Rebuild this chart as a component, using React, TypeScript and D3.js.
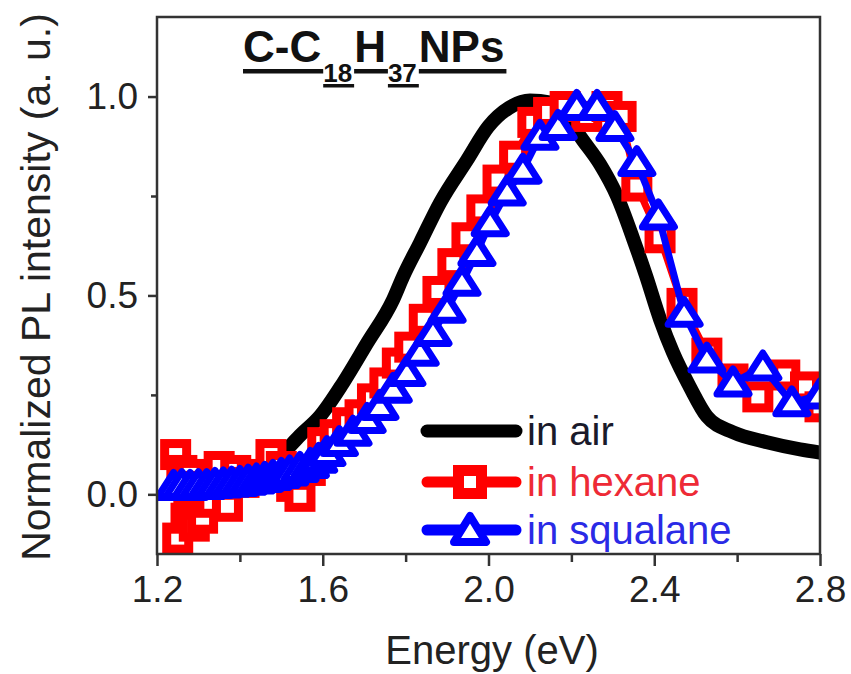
import React, { useEffect, useRef } from 'react';
import * as d3 from 'd3';

// ---- data ----
const airEnergy = [1.24, 1.27, 1.3, 1.35, 1.4, 1.45, 1.5, 1.545, 1.593, 1.649, 1.707, 1.77, 1.794, 1.835, 1.883, 1.948, 2.0, 2.05, 2.1, 2.15, 2.204, 2.228, 2.269, 2.31, 2.35, 2.38, 2.414, 2.445, 2.486, 2.527, 2.59, 2.672, 2.752, 2.8];
const airIntensity = [0.03, 0.032, 0.035, 0.04, 0.05, 0.068, 0.1, 0.148, 0.196, 0.28, 0.38, 0.49, 0.548, 0.633, 0.733, 0.84, 0.925, 0.972, 0.99, 0.985, 0.925, 0.89, 0.83, 0.75, 0.64, 0.55, 0.44, 0.357, 0.27, 0.196, 0.156, 0.131, 0.113, 0.105];

const hexaneEnergy = [1.245, 1.25, 1.26, 1.27, 1.28, 1.29, 1.3, 1.31, 1.33, 1.35, 1.37, 1.39, 1.41, 1.43, 1.45, 1.475, 1.5, 1.525, 1.545, 1.57, 1.6, 1.63, 1.66, 1.69, 1.72, 1.75, 1.78, 1.81, 1.845, 1.878, 1.914, 1.948, 1.984, 2.023, 2.063, 2.107, 2.145, 2.185, 2.237, 2.286, 2.32, 2.358, 2.414, 2.467, 2.527, 2.59, 2.65, 2.715, 2.765, 2.8];
const hexaneIntensity = [0.1, -0.11, 0.06, -0.06, 0.05, -0.08, 0.02, -0.06, -0.02, 0.07, -0.03, 0.06, 0.03, 0.04, 0.05, 0.1, 0.07, 0.02, -0.005, 0.06, 0.13, 0.15, 0.18, 0.2, 0.24, 0.28, 0.33, 0.37, 0.44, 0.51, 0.58, 0.645, 0.715, 0.79, 0.85, 0.935, 0.96, 0.975, 0.95, 0.975, 0.95, 0.775, 0.645, 0.48, 0.355, 0.29, 0.245, 0.3, 0.27, 0.22];

const squalaneEnergy = [1.24, 1.26, 1.28, 1.3, 1.32, 1.34, 1.36, 1.38, 1.4, 1.42, 1.44, 1.46, 1.48, 1.5, 1.52, 1.545, 1.57, 1.59, 1.61, 1.64, 1.673, 1.707, 1.738, 1.77, 1.803, 1.835, 1.866, 1.9, 1.936, 1.972, 2.004, 2.045, 2.083, 2.124, 2.168, 2.213, 2.262, 2.305, 2.358, 2.41, 2.472, 2.527, 2.59, 2.662, 2.732, 2.8];
const squalaneIntensity = [0.02, 0.022, 0.02, 0.022, 0.022, 0.025, 0.026, 0.028, 0.03, 0.033, 0.036, 0.04, 0.045, 0.05, 0.056, 0.065, 0.075, 0.088, 0.105, 0.13, 0.156, 0.188, 0.221, 0.264, 0.306, 0.357, 0.407, 0.465, 0.533, 0.608, 0.683, 0.76, 0.815, 0.9, 0.925, 0.975, 0.975, 0.922, 0.834, 0.7, 0.455, 0.34, 0.28, 0.32, 0.23, 0.25];

const xMajorTicks = [1.2, 1.6, 2.0, 2.4, 2.8];
const xMinorTicks = [1.4, 1.8, 2.2, 2.6];
const yMajorTicks = [0, 0.5, 1.0];
const yMinorTicks = [0.25, 0.75];
const legendLabels = ['in air', 'in hexane', 'in squalane'];
const titleParts = [
  { text: 'C-C', sub: false },
  { text: '18', sub: true },
  { text: 'H', sub: false },
  { text: '37', sub: true },
  { text: 'NPs', sub: false },
];

const FONT = '"Liberation Sans", Arial, Helvetica, sans-serif';

export default function App() {
  const ref = useRef<SVGSVGElement>(null);

  useEffect(() => {
    const svg = d3.select(ref.current);
    svg.selectAll('*').remove();

    const L = 157, R = 820, T = 17, B = 554;
    const x = d3.scaleLinear().domain([1.2, 2.8]).range([L, R]);
    const y = d3.scaleLinear().domain([-0.15, 1.2]).range([B, T]);
    const axisColor = '#333';

    svg.append('rect').attr('width', 851).attr('height', 674).attr('fill', '#fff');

    svg.append('defs').append('clipPath').attr('id', 'plotclip')
      .append('rect').attr('x', L).attr('y', T).attr('width', R - L).attr('height', B - T);

    const plot = svg.append('g').attr('clip-path', 'url(#plotclip)');

    const air = airEnergy.map((e, i) => [e, airIntensity[i]] as [number, number]);
    const hex = hexaneEnergy.map((e, i) => [e, hexaneIntensity[i]] as [number, number]);
    const squ = squalaneEnergy.map((e, i) => [e, squalaneIntensity[i]] as [number, number]);

    const smoothLine = d3.line<[number, number]>().x(d => x(d[0])).y(d => y(d[1])).curve(d3.curveMonotoneX);
    const linearLine = d3.line<[number, number]>().x(d => x(d[0])).y(d => y(d[1]));

    // black line
    plot.append('path').attr('d', smoothLine(air)!)
      .attr('fill', 'none').attr('stroke', '#000').attr('stroke-width', 14)
      .attr('stroke-linejoin', 'round').attr('stroke-linecap', 'round');

    // red (hexane)
    plot.append('path').attr('d', linearLine(hex)!)
      .attr('fill', 'none').attr('stroke', '#ff0000').attr('stroke-width', 7).attr('stroke-linejoin', 'round');
    plot.selectAll('rect.hex').data(hex).enter().append('rect')
      .attr('x', d => x(d[0]) - 11).attr('y', d => y(d[1]) - 11)
      .attr('width', 22).attr('height', 22)
      .attr('fill', '#fff').attr('stroke', '#ff0000').attr('stroke-width', 9);

    // blue (squalane)
    plot.append('path').attr('d', linearLine(squ)!)
      .attr('fill', 'none').attr('stroke', '#0000ff').attr('stroke-width', 7).attr('stroke-linejoin', 'round');
    const tri = 'M0,-14L16,11L-16,11Z';
    plot.selectAll('path.squ').data(squ).enter().append('path')
      .attr('d', tri)
      .attr('transform', d => `translate(${x(d[0])},${y(d[1])})`)
      .attr('fill', '#fff').attr('stroke', '#0000ff').attr('stroke-width', 7).attr('stroke-linejoin', 'round');

    // frame
    svg.append('rect').attr('x', L).attr('y', T).attr('width', R - L).attr('height', B - T)
      .attr('fill', 'none').attr('stroke', axisColor).attr('stroke-width', 2.5);

    // x axis
    const gx = svg.append('g').attr('transform', `translate(0,${B})`);
    gx.call(d3.axisBottom(x).tickValues(xMajorTicks).tickSize(12).tickPadding(10).tickFormat(d3.format('.1f')) as any);
    gx.call(g => g.select('.domain').remove());
    const gx2 = svg.append('g').attr('transform', `translate(0,${B})`);
    gx2.call(d3.axisBottom(x).tickValues(xMinorTicks).tickSize(8).tickFormat(() => '') as any);
    gx2.call(g => g.select('.domain').remove());

    // y axis
    const gy = svg.append('g').attr('transform', `translate(${L},0)`);
    gy.call(d3.axisLeft(y).tickValues(yMajorTicks).tickSize(9).tickPadding(10).tickFormat(d3.format('.1f')) as any);
    gy.call(g => g.select('.domain').remove());
    const gy2 = svg.append('g').attr('transform', `translate(${L},0)`);
    gy2.call(d3.axisLeft(y).tickValues(yMinorTicks).tickSize(6).tickFormat(() => '') as any);
    gy2.call(g => g.select('.domain').remove());

    svg.selectAll('.tick line').attr('stroke', axisColor).attr('stroke-width', 2.5);
    svg.selectAll('.tick text').attr('font-family', FONT).attr('font-size', 37).attr('fill', '#222');

    // axis titles
    svg.append('text').attr('x', 492).attr('y', 664).attr('text-anchor', 'middle')
      .attr('font-family', FONT).attr('font-size', 40).attr('fill', '#222').text('Energy (eV)');
    svg.append('text').attr('transform', 'translate(50,287) rotate(-90)').attr('text-anchor', 'middle')
      .attr('font-family', FONT).attr('font-size', 41).attr('fill', '#222').text('Normalized PL intensity (a. u.)');

    // title
    let cx = 243;
    titleParts.forEach(p => {
      const t = svg.append('text').attr('x', cx).attr('y', p.sub ? 82 : 62)
        .attr('font-family', FONT).attr('font-weight', 'bold')
        .attr('font-size', p.sub ? 26 : 44).attr('fill', '#111').text(p.text);
      const w = (t.node() as SVGTextElement).getComputedTextLength();
      svg.append('rect').attr('x', cx).attr('y', p.sub ? 84 : 69).attr('width', w + 2)
        .attr('height', p.sub ? 3.5 : 4.5).attr('fill', '#111');
      cx += w + 2;
    });

    // legend
    const legY = [431, 482, 530];
    const colors = ['#000', '#ff0000', '#0000ff'];
    const textColors = ['#1a1a2a', '#ee2a36', '#2a2ae6'];
    legendLabels.forEach((lab, i) => {
      const ly = legY[i];
      svg.append('line').attr('x1', 427).attr('x2', 516).attr('y1', ly).attr('y2', ly)
        .attr('stroke', colors[i]).attr('stroke-width', i === 0 ? 13 : 11).attr('stroke-linecap', 'round');
      if (i === 1) {
        svg.append('rect').attr('x', 470 - 11.5).attr('y', ly - 11.5).attr('width', 23).attr('height', 23)
          .attr('fill', '#fff').attr('stroke', colors[i]).attr('stroke-width', 11);
      } else if (i === 2) {
        svg.append('path').attr('d', 'M0,-14L16,12L-16,12Z').attr('transform', `translate(470,${ly})`)
          .attr('fill', '#fff').attr('stroke', colors[i]).attr('stroke-width', 8).attr('stroke-linejoin', 'round');
      }
      svg.append('text').attr('x', 527).attr('y', ly + 14)
        .attr('font-family', FONT).attr('font-size', 40).attr('fill', textColors[i]).text(lab);
    });
  }, []);

  return <svg ref={ref} width={851} height={674} style={{ position: 'absolute', left: 0, top: 0 }} />;
}
